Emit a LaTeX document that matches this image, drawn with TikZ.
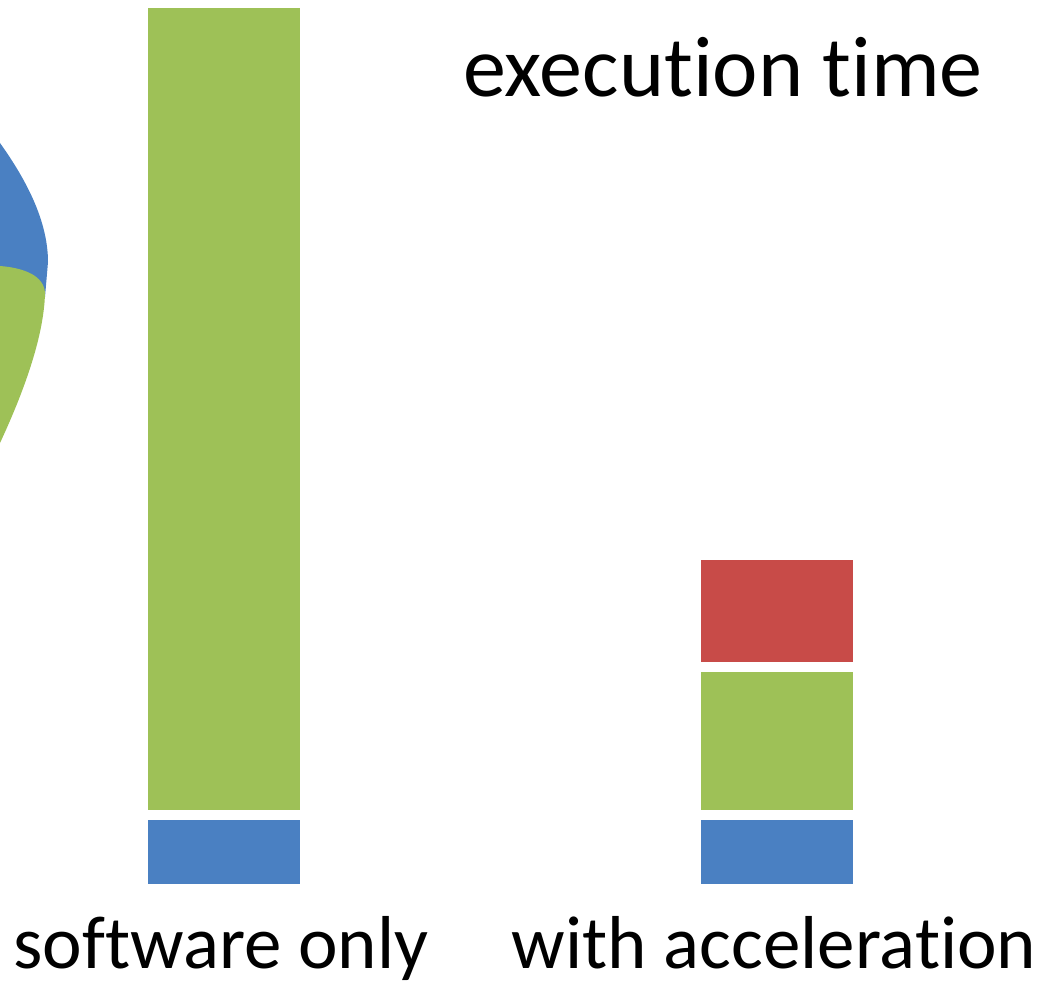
\documentclass[tikz,border=0pt]{standalone}
\usepackage{fontspec}
\setmainfont{Carlito}[Ligatures={NoCommon}]
\definecolor{barblue}{HTML}{4A80C2}
\definecolor{bargreen}{HTML}{9EC157}
\definecolor{barred}{HTML}{C84B48}
\begin{document}
\begin{tikzpicture}[x=1pt,y=-1pt,
  bar/.style={inner sep=0pt, outer sep=0pt, minimum width=152pt, anchor=north west},
  lbl/.style={inner sep=0pt, anchor=base, font=\fontsize{86}{90}\selectfont},
  axlbl/.style={inner sep=0pt, anchor=base, font=\fontsize{75}{79}\selectfont}]
\useasboundingbox (0,0) rectangle (1052,981);
% partial pie at left edge
\begin{scope}
\clip (0,0) rectangle (1052,981);
\fill[barblue] (0,143) .. controls (25,178) and (48,220) .. (48,262) -- (45,297) -- (0,297) -- cycle;
\fill[bargreen] (0,266) .. controls (25,268) and (44,276) .. (45,293) .. controls (44,340) and (20,400) .. (0,443) -- cycle;
\end{scope}
% software only bar
\node[bar, fill=bargreen, minimum height=802pt] (swg) at (148,8) {};
\node[bar, fill=barblue, minimum height=64pt] (swb) at (148,820) {};
% with acceleration bar
\node[bar, fill=barred, minimum height=102pt] (acr) at (701,560) {};
\node[bar, fill=bargreen, minimum height=138pt] (acg) at (701,672) {};
\node[bar, fill=barblue, minimum height=64pt] (acb) at (701,820) {};
% labels
\node[lbl] (title) at (723,97) {execution time};
\node[axlbl] (sw) at (221,968) {software only};
\node[axlbl] (ac) at (774,968) {with acceleration};
\end{tikzpicture}
\end{document}
